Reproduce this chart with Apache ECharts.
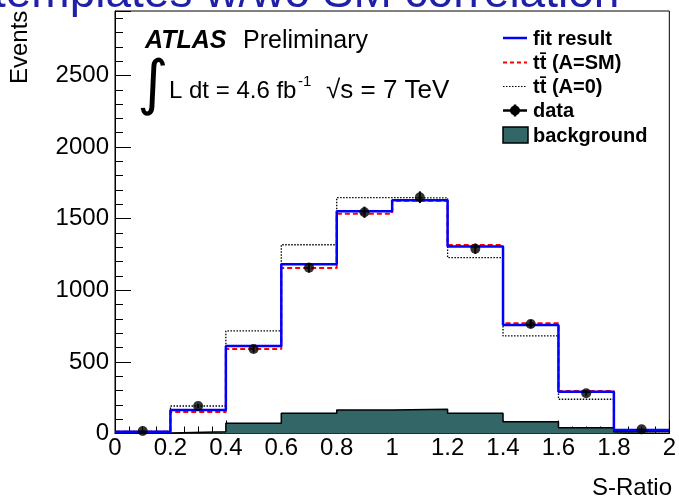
<!DOCTYPE html>
<html><head><meta charset="utf-8">
<script src="https://cdn.jsdelivr.net/npm/echarts@6/dist/echarts.min.js"></script>
<style>html,body{margin:0;padding:0;background:#fff}#c{width:679px;height:503px}</style>
</head><body><div id="c"></div>
<script>
// ---- data ----
const binEdges   = [0, 0.2, 0.4, 0.6, 0.8, 1.0, 1.2, 1.4, 1.6, 1.8, 2.0];
const fitResult  = [13, 164, 611, 1181, 1552, 1628, 1305, 758, 292, 24];
const ttSM       = [12, 150, 590, 1156, 1535, 1625, 1316, 770, 297, 25];
const ttA0       = [14, 192, 716, 1318, 1647, 1645, 1228, 681, 239, 13];
const dataVals   = [17, 192, 590, 1158, 1545, 1650, 1290, 765, 281, 29];
const dataErr    = [4, 14, 24, 34, 39, 41, 36, 28, 17, 5];
const background = [3, 13, 71, 141, 164, 169, 141, 82, 41, 13];
const yTickLabels = [0, 500, 1000, 1500, 2000, 2500];
const legendLabels = ['fit result', 'tt\u0304 (A=SM)', 'tt\u0304 (A=0)', 'data', 'background'];

const FONT = '"Liberation Sans", Arial, Helvetica, sans-serif';
const BG_COLOR = '#336666';

function stepData(vals) {
  const d = vals.map((v, i) => [binEdges[i], v]);
  d.push([binEdges[vals.length], vals[vals.length - 1]]);
  return d;
}
const centers = dataVals.map((v, i) => (binEdges[i] + binEdges[i + 1]) / 2);

const chart = echarts.init(document.getElementById('c'), null, {renderer: 'canvas'});

const legY = [38, 62.5, 86.5, 110.5, 135];
const legendGraphics = [];
const lx0 = 503, lx1 = 527, tx = 533;
legendGraphics.push({type: 'line', shape: {x1: lx0, y1: legY[0], x2: lx1, y2: legY[0]}, style: {stroke: '#0000ff', lineWidth: 2.5}});
legendGraphics.push({type: 'line', shape: {x1: lx0, y1: legY[1], x2: lx1, y2: legY[1]}, style: {stroke: '#ff0000', lineWidth: 2, lineDash: [4, 3]}});
legendGraphics.push({type: 'line', shape: {x1: lx0, y1: legY[2], x2: lx1, y2: legY[2]}, style: {stroke: '#000', lineWidth: 1.2, lineDash: [1.5, 1.5]}});
legendGraphics.push({type: 'line', shape: {x1: lx0, y1: legY[3], x2: lx1, y2: legY[3]}, style: {stroke: '#000', lineWidth: 2.5}});
legendGraphics.push({type: 'line', shape: {x1: (lx0 + lx1) / 2, y1: legY[3] - 6, x2: (lx0 + lx1) / 2, y2: legY[3] + 6}, style: {stroke: '#000', lineWidth: 2.5}});
legendGraphics.push({type: 'circle', shape: {cx: (lx0 + lx1) / 2, cy: legY[3], r: 5}, style: {fill: '#000'}});
legendGraphics.push({type: 'rect', shape: {x: 503, y: 127, width: 25, height: 16}, style: {fill: BG_COLOR, stroke: '#000', lineWidth: 1.5}});
legendLabels.forEach((t, i) => {
  legendGraphics.push({type: 'text', x: tx, y: legY[i] + 1, style: {text: t, font: 'bold 20px ' + FONT, fill: '#000', verticalAlign: 'middle', align: 'left'}});
});

const option = {
  animation: false,
  backgroundColor: '#fff',
  grid: {left: 115, right: 6, top: 11, bottom: 69.5, show: true, borderColor: '#000', borderWidth: 1, containLabel: false},
  xAxis: {
    type: 'value', min: 0, max: 2, interval: 0.2,
    axisLine: {show: true, onZero: false, lineStyle: {color: '#000', width: 1}},
    axisTick: {show: true, inside: true, length: 13, lineStyle: {color: '#000', width: 1}},
    minorTick: {show: true, splitNumber: 4, length: 7, lineStyle: {color: '#000', width: 1}},
    axisLabel: {fontFamily: FONT, fontSize: 24, color: '#000', margin: 3},
    splitLine: {show: false}, minorSplitLine: {show: false}
  },
  yAxis: [{
    type: 'value', min: 0, max: 2950, interval: 500,
    axisLine: {show: true, onZero: false, lineStyle: {color: '#000', width: 1}},
    axisTick: {show: true, inside: true, length: 16, lineStyle: {color: '#000', width: 1}},
    axisLabel: {fontFamily: FONT, fontSize: 24, color: '#000', margin: 6,
      formatter: v => (yTickLabels.indexOf(v) >= 0 ? String(v) : '')},
    splitLine: {show: false}
  }, {
    type: 'value', min: 0, max: 2950, interval: 100, position: 'left',
    axisLine: {show: false},
    axisTick: {show: true, inside: true, length: 8, lineStyle: {color: '#000', width: 1}},
    axisLabel: {show: false}, splitLine: {show: false}
  }],
  graphic: [
    {type: 'text', x: -7, y: -6, z: 100, style: {text: 'templates w/wo SM correlation', font: '46px ' + FONT, fill: '#1f1fa8', verticalAlign: 'middle', align: 'left'}},
    {type: 'text', x: 20, y: 84, rotation: Math.PI / 2, style: {text: 'Events', font: '24px ' + FONT, fill: '#000', verticalAlign: 'middle', align: 'left'}},
    {type: 'text', x: 672, y: 488, style: {text: 'S-Ratio', font: '24px ' + FONT, fill: '#000', verticalAlign: 'middle', align: 'right'}},
    {type: 'text', x: 145, y: 41, style: {text: 'ATLAS', font: 'italic bold 25px ' + FONT, fill: '#000', verticalAlign: 'middle', align: 'left'}},
    {type: 'text', x: 243, y: 41, style: {text: 'Preliminary', font: '25px ' + FONT, fill: '#000', verticalAlign: 'middle', align: 'left'}},
    {type: 'text', x: 153, y: 87, style: {text: '\u222B', font: '60px "DejaVu Sans", ' + FONT, fill: '#000', verticalAlign: 'middle', align: 'center'}},
    {type: 'text', x: 169, y: 91, style: {text: 'L dt = 4.6 fb', font: '24px ' + FONT, fill: '#000', verticalAlign: 'middle', align: 'left'}},
    {type: 'text', x: 298, y: 82, style: {text: '-1', font: '15px ' + FONT, fill: '#000', verticalAlign: 'middle', align: 'left'}},
    {type: 'text', x: 326, y: 91, style: {text: '\u221As = 7 TeV', font: '26px ' + FONT, fill: '#000', verticalAlign: 'middle', align: 'left'}},
    ...legendGraphics
  ],
  series: [
    {name: 'background', type: 'line', step: 'end', symbol: 'none', data: stepData(background), z: 2,
      lineStyle: {color: '#000', width: 1.5}, areaStyle: {color: BG_COLOR, opacity: 1, origin: 'start'}},
    {name: 'tt (A=0)', type: 'line', step: 'end', symbol: 'none', data: stepData(ttA0), z: 3,
      lineStyle: {color: '#000', width: 1.3, type: [1.5, 1.5]}},
    {name: 'tt (A=SM)', type: 'line', step: 'end', symbol: 'none', data: stepData(ttSM), z: 4,
      lineStyle: {color: '#ff0000', width: 2, type: [5, 3]}},
    {name: 'fit result', type: 'line', step: 'end', symbol: 'none', data: stepData(fitResult), z: 5,
      lineStyle: {color: '#0000ff', width: 2.5}},
    {name: 'data err', type: 'custom', z: 6,
      data: dataVals.map((v, i) => [centers[i], v, dataErr[i]]),
      renderItem: (params, api) => {
        const x = api.value(0), y = api.value(1), e = api.value(2);
        const p1 = api.coord([x, y - e]), p2 = api.coord([x, y + e]);
        return {type: 'line', shape: {x1: p1[0], y1: p1[1], x2: p2[0], y2: p2[1]}, style: {stroke: '#000', lineWidth: 2}};
      }},
    {name: 'data', type: 'scatter', z: 7, symbol: 'circle', symbolSize: 10,
      itemStyle: {color: '#000'}, data: dataVals.map((v, i) => [centers[i], v])}
  ]
};
chart.setOption(option);
</script>
</body></html>
